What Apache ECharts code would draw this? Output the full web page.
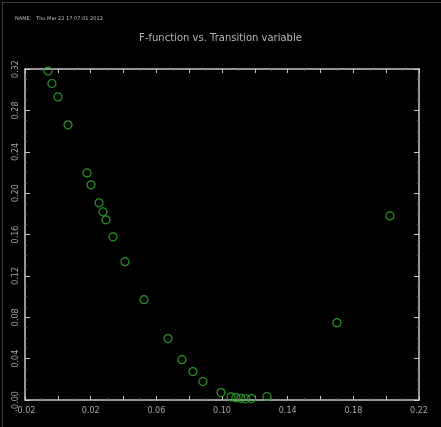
<!DOCTYPE html>
<html>
<head>
<meta charset="utf-8">
<script src="https://cdn.jsdelivr.net/npm/echarts@6/dist/echarts.min.js"></script>
<style>
html,body{margin:0;padding:0;background:#000;}
#c{width:441px;height:427px;}
</style>
</head>
<body>
<div id="c"></div>
<script>
var xValues = [-0.006, -0.0036, 0.0001, 0.0062, 0.0178, 0.0202, 0.0251, 0.0275, 0.0293, 0.0336, 0.0409, 0.0525, 0.0671, 0.0756, 0.0823, 0.0884, 0.0994, 0.1055, 0.1085, 0.1115, 0.1145, 0.118, 0.1274, 0.1700, 0.2023];
var yValues = [0.318, 0.306, 0.293, 0.266, 0.2195, 0.208, 0.1906, 0.182, 0.1742, 0.1578, 0.1337, 0.0970, 0.0594, 0.039, 0.0275, 0.0179, 0.0072, 0.0030, 0.0022, 0.0016, 0.0012, 0.0014, 0.0034, 0.0748, 0.178];
var xTickLabels = ['-0.02', '0.02', '0.06', '0.10', '0.14', '0.18', '0.22'];
var yTickLabels = ['0.00', '0.04', '0.08', '0.12', '0.16', '0.20', '0.24', '0.28', '0.32'];
var titleText = 'F-function vs. Transition variable';
var stampText = 'NAME:   Thu Mar 22 17:07:01 2012';

var points = xValues.map(function (x, i) { return [x, yValues[i]]; });
var frameColor = '#c8c8c8';
var labelColor = '#a8a8a8';

function xFmt(v) {
  var s = v.toFixed(2);
  if (s === '-0.00') s = '0.00';
  return xTickLabels.indexOf(s) >= 0 ? s : '';
}
function yFmt(v) {
  var s = v.toFixed(2);
  return yTickLabels.indexOf(s) >= 0 ? s : '';
}

var chart = echarts.init(document.getElementById('c'));
var baseX = {
  type: 'value', min: -0.02, max: 0.22, interval: 0.02,
  axisLine: { show: true, onZero: false, lineStyle: { color: frameColor, width: 1.5 } },
  axisTick: { show: true, inside: true, length: 4, lineStyle: { color: frameColor } },
  minorTick: { show: true, splitNumber: 2, length: 2, lineStyle: { color: '#666' } },
  splitLine: { show: false }
};
var baseY = {
  type: 'value', min: 0, max: 0.32, interval: 0.04,
  axisLine: { show: true, onZero: false, lineStyle: { color: frameColor, width: 1.5 } },
  axisTick: { show: true, inside: true, length: 5, lineStyle: { color: frameColor } },
  minorTick: { show: true, splitNumber: 4, length: 2, lineStyle: { color: '#666' } },
  splitLine: { show: false }
};
chart.setOption({
  backgroundColor: '#000',
  animation: false,
  graphic: [{
    type: 'rect', left: 0, top: 0, silent: true,
    shape: { x: 0.5, y: 0.5, width: 440, height: 426 },
    style: { fill: 'none', stroke: '#3a3a3a', lineWidth: 1 }
  }],
  title: [
    { text: titleText, left: 'center', top: 28, textStyle: { color: '#b5b5b5', fontSize: 10, fontWeight: 'normal', fontFamily: 'DejaVu Sans' } },
    { text: stampText, left: 10, top: 11, textStyle: { color: '#bdbdbd', fontSize: 5, fontWeight: 'normal', fontFamily: 'DejaVu Sans' } }
  ],
  grid: { left: 25, right: 22, top: 69, bottom: 27, containLabel: false },
  xAxis: [
    Object.assign({}, baseX, { position: 'bottom', axisLabel: { show: true, color: labelColor, fontSize: 8, margin: 7, fontFamily: 'DejaVu Sans', formatter: xFmt, showMinLabel: true, showMaxLabel: true } }),
    Object.assign({}, baseX, { position: 'top', axisLabel: { show: false } })
  ],
  yAxis: [
    Object.assign({}, baseY, { position: 'left', axisLabel: { show: true, color: labelColor, fontSize: 8, margin: 5, rotate: 90, fontFamily: 'DejaVu Sans', formatter: yFmt, showMinLabel: true, showMaxLabel: true } }),
    Object.assign({}, baseY, { position: 'right', axisLabel: { show: false } })
  ],
  series: [{
    type: 'scatter',
    xAxisIndex: 0, yAxisIndex: 0,
    data: points,
    symbol: 'circle',
    symbolSize: 8,
    itemStyle: { color: 'rgba(0,0,0,0)', borderColor: '#2ea82e', borderWidth: 1.2, opacity: 0.9 }
  }]
});
</script>
</body>
</html>
